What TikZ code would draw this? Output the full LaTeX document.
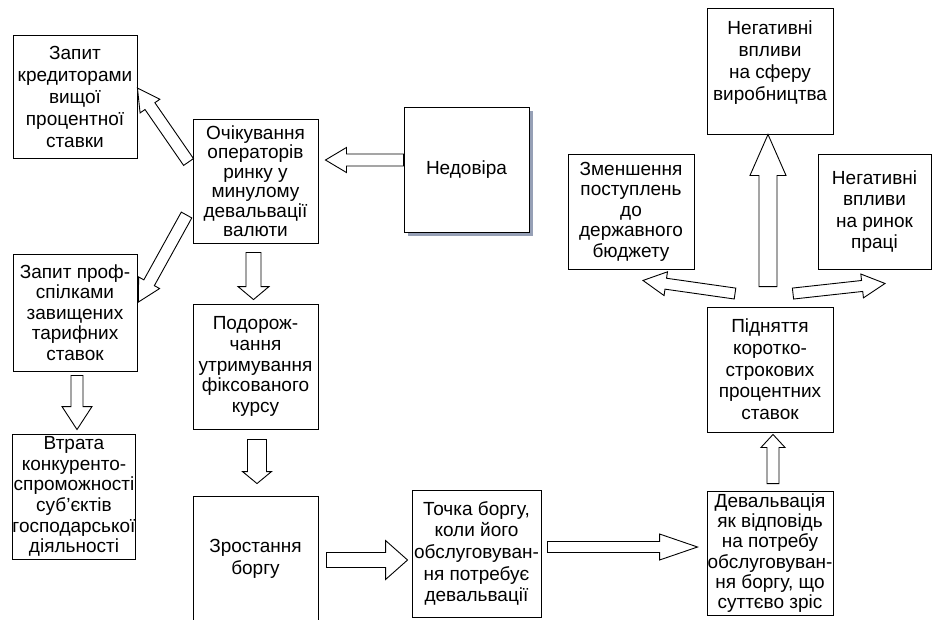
\documentclass[tikz,border=0pt]{standalone}
\usepackage{fontspec}
\setmainfont{Liberation Sans}
\usetikzlibrary{calc, shadows}
\definecolor{shadowgray}{RGB}{150,160,182}
\tikzset{
  box/.style={draw, line width=0.9pt, align=center, inner sep=0pt, lines=21},
  lines/.style={font=\fontsize{19pt}{#1pt}\selectfont},
  dims/.style 2 args={minimum width=#1pt, minimum height=#2pt},
  barrow/.style={draw, line width=0.9pt, fill=white}}
% hollow block arrow: start, end, half shaft, half head, head length
\newcommand*{\blockarrow}[5]{%
  \coordinate (ba-s) at (#1);
  \coordinate (ba-t) at (#2);
  \coordinate (ba-h) at ($(ba-t)!#5!(ba-s)$);
  \draw[barrow] ($(ba-s)!#3!90:(ba-t)$) -- ($(ba-h)!#3!90:(ba-t)$)
    -- ($(ba-h)!#4!90:(ba-t)$) -- (ba-t) -- ($(ba-h)!#4!-90:(ba-t)$)
    -- ($(ba-h)!#3!-90:(ba-t)$) -- ($(ba-s)!#3!-90:(ba-t)$) -- cycle;}
\begin{document}
\begin{tikzpicture}[x=1pt, y=-1pt]
      \useasboundingbox (0,0) rectangle (932,619);
      % left column
      \node[box, dims={124}{123}, lines=22] (zapkred) at (75,96.5) {Запит\\кредиторами\\вищої\\процентної\\ставки};
      \node[box, dims={124}{117}, lines=20.5] (zapprof) at (75,312.5) {Запит проф-\\спілками\\завищених\\тарифних\\ставок};
      \node[box, dims={122}{125}, lines=20.7] (vtrata) at (74,496.5) {Втрата\\конкуренто-\\спроможності\\суб’єктів\\господарської\\діяльності};
      % middle column
      \node[box, dims={125}{124}, lines=19.5] (ochik) at (255.5,181) {Очікування\\операторів\\ринку у\\минулому\\девальвації\\валюти};
      \node[box, dims={125}{125}, lines=20.8] (podor) at (255.5,366.5) {Подорож-\\чання\\утримування\\фіксованого\\курсу};
      \node[box, dims={125}{125}, lines=22] (zrost) at (255.5,558.5) {Зростання\\боргу};
      \node[box, dims={125}{125}, fill=white,
        drop shadow={shadow xshift=3.5pt, shadow yshift=-3.5pt, fill=shadowgray, opacity=1}]
        (nedov) at (466.5,169.5) {Недовіра};
      \node[box, dims={129}{127}, lines=21.7] (tochka) at (476.5,553.5) {Точка боргу,\\коли його\\обслуговуван-\\ня потребує\\девальвації};
      % right column
      \node[box, dims={126}{124}, lines=20.3] (deval) at (770,553) {Девальвація\\як відповідь\\на потребу\\обслуговуван-\\ня боргу, що\\суттєво зріс};
      \node[box, dims={126}{125}, lines=21.7] (pidn) at (770,369.5) {Підняття\\коротко-\\строкових\\процентних\\ставок};
      \node[box, dims={126}{126}, lines=22, text depth=20pt] (negsf) at (770,71) {Негативні\\впливи\\на сферу\\виробництва};
      \node[box, dims={126}{115}, lines=20.5] (zmen) at (631,211.5) {Зменшення\\поступлень\\до\\державного\\бюджету};
      \node[box, dims={113}{115}, lines=21.5] (negrp) at (874.5,211.5) {Негативні\\впливи\\на ринок\\праці};
      % block arrows
      \blockarrow{$(nedov.west)+(0,-9.5)$}{$(ochik.east)+(7,-21)$}{6pt}{12.5pt}{21pt}
      \blockarrow{$(ochik.west)+(-4,-19)$}{$(zapkred.east)+(0,-8.5)$}{6pt}{12pt}{22pt}
      \blockarrow{$(ochik.west)+(-6,34)$}{$(zapprof.east)+(1,-10.5)$}{6pt}{12pt}{22pt}
      \blockarrow{$(ochik.south)+(-2,9)$}{$(podor.north)+(-2,-4)$}{7.5pt}{15.5pt}{13pt}
      \blockarrow{$(zapprof.south)+(2,4)$}{$(vtrata.north)+(3,-4)$}{6pt}{15pt}{23pt}
      \blockarrow{$(podor.south)+(1.5,10)$}{$(zrost.north)+(1.5,-12)$}{9.5pt}{14.5pt}{12pt}
      \blockarrow{$(zrost.east)+(8,1.5)$}{$(tochka.west)+(-4,6.5)$}{7.5pt}{19.5pt}{22pt}
      \blockarrow{$(tochka.east)+(6,-6.5)$}{$(deval.west)+(-9,-6)$}{5.5pt}{13pt}{38pt}
      \blockarrow{$(deval.north)+(3,-7)$}{$(pidn.south)+(3,2)$}{6pt}{12pt}{13pt}
      \blockarrow{$(pidn.north)+(-2,-20)$}{$(negsf.south)+(-2,0)$}{9pt}{18pt}{41pt}
      \blockarrow{$(pidn.north)+(-35,-13)$}{$(zmen.south)+(12,11)$}{5.5pt}{12pt}{23pt}
      \blockarrow{$(pidn.north)+(23,-13)$}{$(negrp.south)+(10.5,14)$}{5.5pt}{12pt}{23pt}
    \end{tikzpicture}
\end{document}
